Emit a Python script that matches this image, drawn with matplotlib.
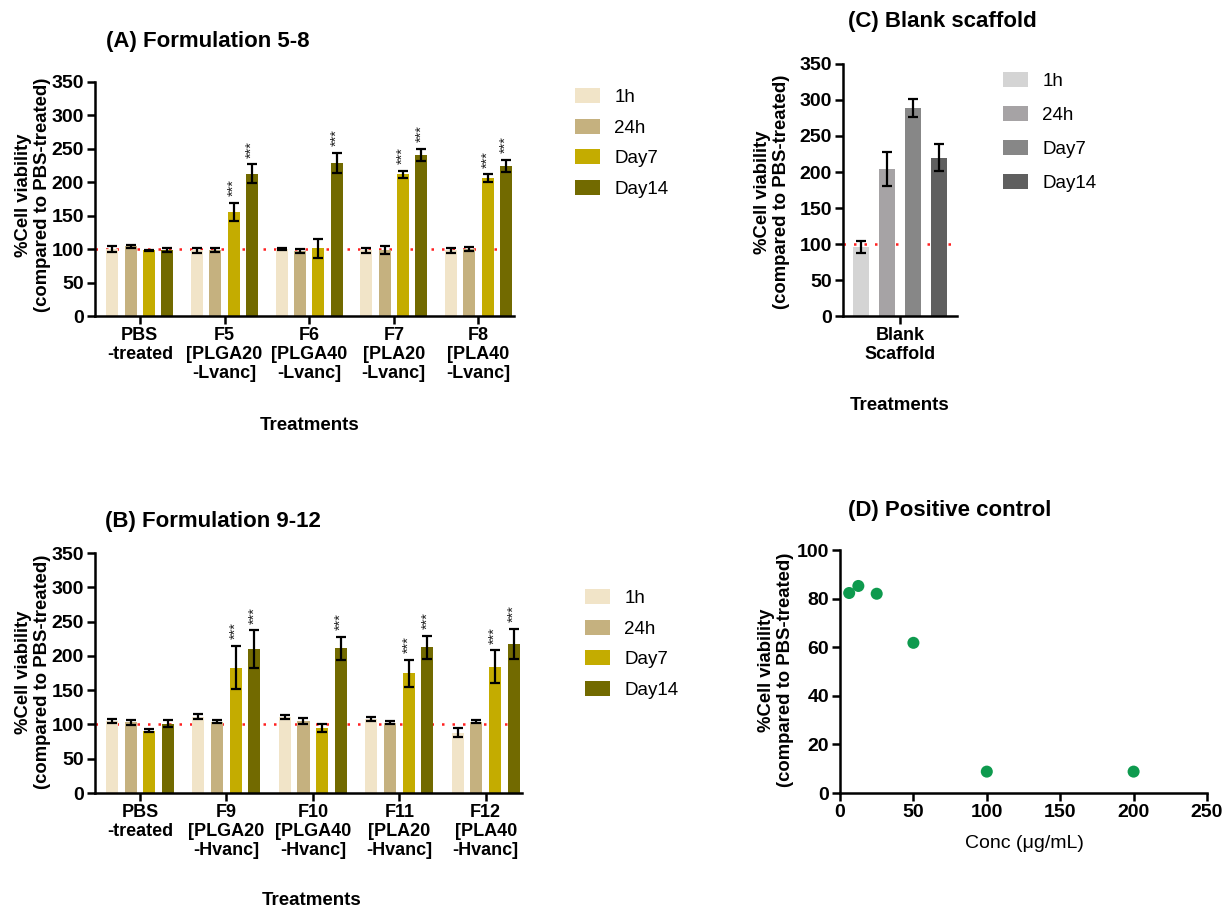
import matplotlib
matplotlib.use("Agg")
import matplotlib.pyplot as plt
from matplotlib.patches import Patch
import numpy as np

plt.rcParams['font.family'] = ['Liberation Sans', 'DejaVu Sans']

# ---------------- data ----------------
series = ["1h", "24h", "Day7", "Day14"]
colors_ab = ["#F1E4C8", "#C5B17F", "#C4AC00", "#726A00"]
colors_c = ["#D4D4D4", "#A6A3A5", "#878787", "#5F5F5F"]

cats_a = ["PBS\n-treated", "F5\n[PLGA20\n-Lvanc]", "F6\n[PLGA40\n-Lvanc]",
          "F7\n[PLA20\n-Lvanc]", "F8\n[PLA40\n-Lvanc]"]
mean_a = {
    "1h":    [100, 98, 100, 98, 98],
    "24h":   [104, 99, 96.5, 99, 100],
    "Day7":  [98, 155.5, 101.5, 212, 206],
    "Day14": [98, 213, 229, 241.5, 225],
}
err_a = {
    "1h":    [4, 4, 2, 4, 4],
    "24h":   [2, 3, 3, 6, 3],
    "Day7":  [1, 14, 14, 5, 6],
    "Day14": [3, 14, 15, 9, 9],
}
sig_a = {
    "1h":    [0, 0, 0, 0, 0],
    "24h":   [0, 0, 0, 0, 0],
    "Day7":  [0, 1, 0, 1, 1],
    "Day14": [0, 1, 1, 1, 1],
}

cats_b = ["PBS\n-treated", "F9\n[PLGA20\n-Hvanc]", "F10\n[PLGA40\n-Hvanc]",
          "F11\n[PLA20\n-Hvanc]", "F12\n[PLA40\n-Hvanc]"]
mean_b = {
    "1h":    [105, 111.5, 110.5, 108, 88],
    "24h":   [103, 104, 105, 102.5, 104],
    "Day7":  [91, 183, 95, 174.5, 184],
    "Day14": [101, 210, 211, 212.5, 217],
}
err_b = {
    "1h":    [3, 3, 3, 3, 7],
    "24h":   [4, 2, 4, 2, 2],
    "Day7":  [2, 31, 6, 20, 24],
    "Day14": [5, 27, 17, 17, 22],
}
sig_b = sig_a

cats_c = ["Blank\nScaffold"]
mean_c = [96, 204, 289, 220]
err_c = [8, 24, 13, 19]

conc_d = [6.25, 12.5, 25, 50, 100, 200]
viab_d = [82.3, 85.2, 82.0, 61.8, 8.8, 8.8]

# ---------------- figure ----------------
W, H = 1226, 913
fig = plt.figure(figsize=(W / 100, H / 100), dpi=100)


def fx(px):
    return px / W


def fy(py):
    return 1 - py / H


def style_axes(ax, tick_bold=True, tick_size=14):
    for s in ["top", "right"]:
        ax.spines[s].set_visible(False)
    for s in ["left", "bottom"]:
        ax.spines[s].set_linewidth(1.8)
    ax.tick_params(axis="both", which="major", direction="out", length=6,
                   width=1.8, labelsize=tick_size, pad=2)
    for lab in ax.get_xticklabels() + ax.get_yticklabels():
        lab.set_fontweight("bold" if tick_bold else "normal")


def bar_panel(ax, cats, means, errs, sigs, colors, xlim, width=0.141, step=0.216):
    x = np.arange(len(cats))
    ax.axhline(100, color="#FF2020", ls=(0, (1, 3.2)), lw=1.8, zorder=1)
    for i, s in enumerate(series):
        off = (i - 1.5) * step
        ax.bar(x + off, means[s], width=width, color=colors[i], zorder=2,
               yerr=errs[s], capsize=3.5,
               error_kw=dict(elinewidth=1.6, capthick=1.6, ecolor="black", zorder=3))
        for j in range(len(cats)):
            if sigs[s][j]:
                ax.text(x[j] + off, means[s][j] + errs[s][j] + 10, "***",
                        rotation=90, ha="center", va="bottom", fontsize=10.5,
                        color="#222222")
    ax.set_ylim(0, 350)
    ax.set_yticks(np.arange(0, 351, 50))
    ax.set_xlim(*xlim)
    ax.set_xticks(x)
    ax.set_xticklabels(cats, linespacing=1.15)
    style_axes(ax)
    for lab in ax.get_xticklabels():
        lab.set_fontsize(13)


ylab = "%Cell viability\n(compared to PBS-treated)"
leg_kw = dict(loc="upper left", frameon=False, fontsize=13.5, handlelength=1.35,
              handleheight=0.85, handletextpad=0.75, borderpad=0, borderaxespad=0)

# Panel A
axA = fig.add_axes([fx(95), fy(316), fx(514 - 95), fy(82) - fy(316)])
bar_panel(axA, cats_a, mean_a, err_a, sig_a, colors_ab, (-0.53, 4.42))
fig.text(fx(106), fy(42), "(A) Formulation 5-8", fontsize=16, fontweight="bold",
         ha="left", va="center")
fig.text(fx(33), fy(195), ylab, rotation=90, ha="center", va="center",
         fontsize=13.3, fontweight="bold", multialignment="center", linespacing=1.1)
fig.text(fx(310), fy(425), "Treatments", fontsize=13.5, fontweight="bold",
         ha="center", va="center")
handles = [Patch(facecolor=c, edgecolor="none") for c in colors_ab]
fig.legend(handles, series, bbox_to_anchor=(fx(575), fy(88)),
           labelspacing=0.68, **leg_kw)

# Panel B
axB = fig.add_axes([fx(95), fy(793), fx(522 - 95), fy(553) - fy(793)])
bar_panel(axB, cats_b, mean_b, err_b, sig_b, colors_ab, (-0.52, 4.42))
fig.text(fx(105), fy(521), "(B) Formulation 9-12", fontsize=16, fontweight="bold",
         ha="left", va="center")
fig.text(fx(33), fy(672), ylab, rotation=90, ha="center", va="center",
         fontsize=13.3, fontweight="bold", multialignment="center", linespacing=1.1)
fig.text(fx(312), fy(900), "Treatments", fontsize=13.5, fontweight="bold",
         ha="center", va="center")
fig.legend(handles, series, bbox_to_anchor=(fx(585), fy(589)),
           labelspacing=0.68, **leg_kw)

# Panel C
axC = fig.add_axes([fx(843), fy(316), fx(957 - 843), fy(64) - fy(316)])
step_c = 0.25
axC.axhline(100, color="#FF2020", ls=(0, (1, 3.2)), lw=1.8, zorder=1)
for i, s in enumerate(series):
    axC.bar(0 + (i - 1.5) * step_c, mean_c[i], width=0.16, color=colors_c[i],
            zorder=2, yerr=err_c[i], capsize=3.5,
            error_kw=dict(elinewidth=1.6, capthick=1.6, ecolor="black", zorder=3))
axC.set_ylim(0, 350)
axC.set_yticks(np.arange(0, 351, 50))
axC.set_xlim(-0.55, 0.55)
axC.set_xticks([0])
axC.set_xticklabels(cats_c, linespacing=1.15)
style_axes(axC)
for lab in axC.get_xticklabels():
    lab.set_fontsize(13)
fig.text(fx(848), fy(22), "(C) Blank scaffold", fontsize=16, fontweight="bold",
         ha="left", va="center")
fig.text(fx(772), fy(192), ylab, rotation=90, ha="center", va="center",
         fontsize=13.3, fontweight="bold", multialignment="center", linespacing=1.1)
fig.text(fx(900), fy(405), "Treatments", fontsize=13.5, fontweight="bold",
         ha="center", va="center")
handles_c = [Patch(facecolor=c, edgecolor="none") for c in colors_c]
fig.legend(handles_c, series, bbox_to_anchor=(fx(1003), fy(72)),
           labelspacing=0.85, **leg_kw)

# Panel D
axD = fig.add_axes([fx(840), fy(793), fx(1207 - 840), fy(550) - fy(793)])
axD.scatter(conc_d, viab_d, s=75, color="#0E9A4E", edgecolors="none", zorder=3,
            clip_on=False)
axD.set_xlim(0, 250)
axD.set_ylim(0, 100)
axD.set_xticks(np.arange(0, 251, 50))
axD.set_yticks(np.arange(0, 101, 20))
style_axes(axD, tick_size=14)
fig.text(fx(848), fy(510), "(D) Positive control", fontsize=16, fontweight="bold",
         ha="left", va="center")
fig.text(fx(776), fy(670), ylab, rotation=90, ha="center", va="center",
         fontsize=13.3, fontweight="bold", multialignment="center", linespacing=1.1)
fig.text(fx(1024), fy(843), "Conc (\u03bcg/mL)", fontsize=14, ha="center",
         va="center")

fig.savefig("out.png", dpi=100)
